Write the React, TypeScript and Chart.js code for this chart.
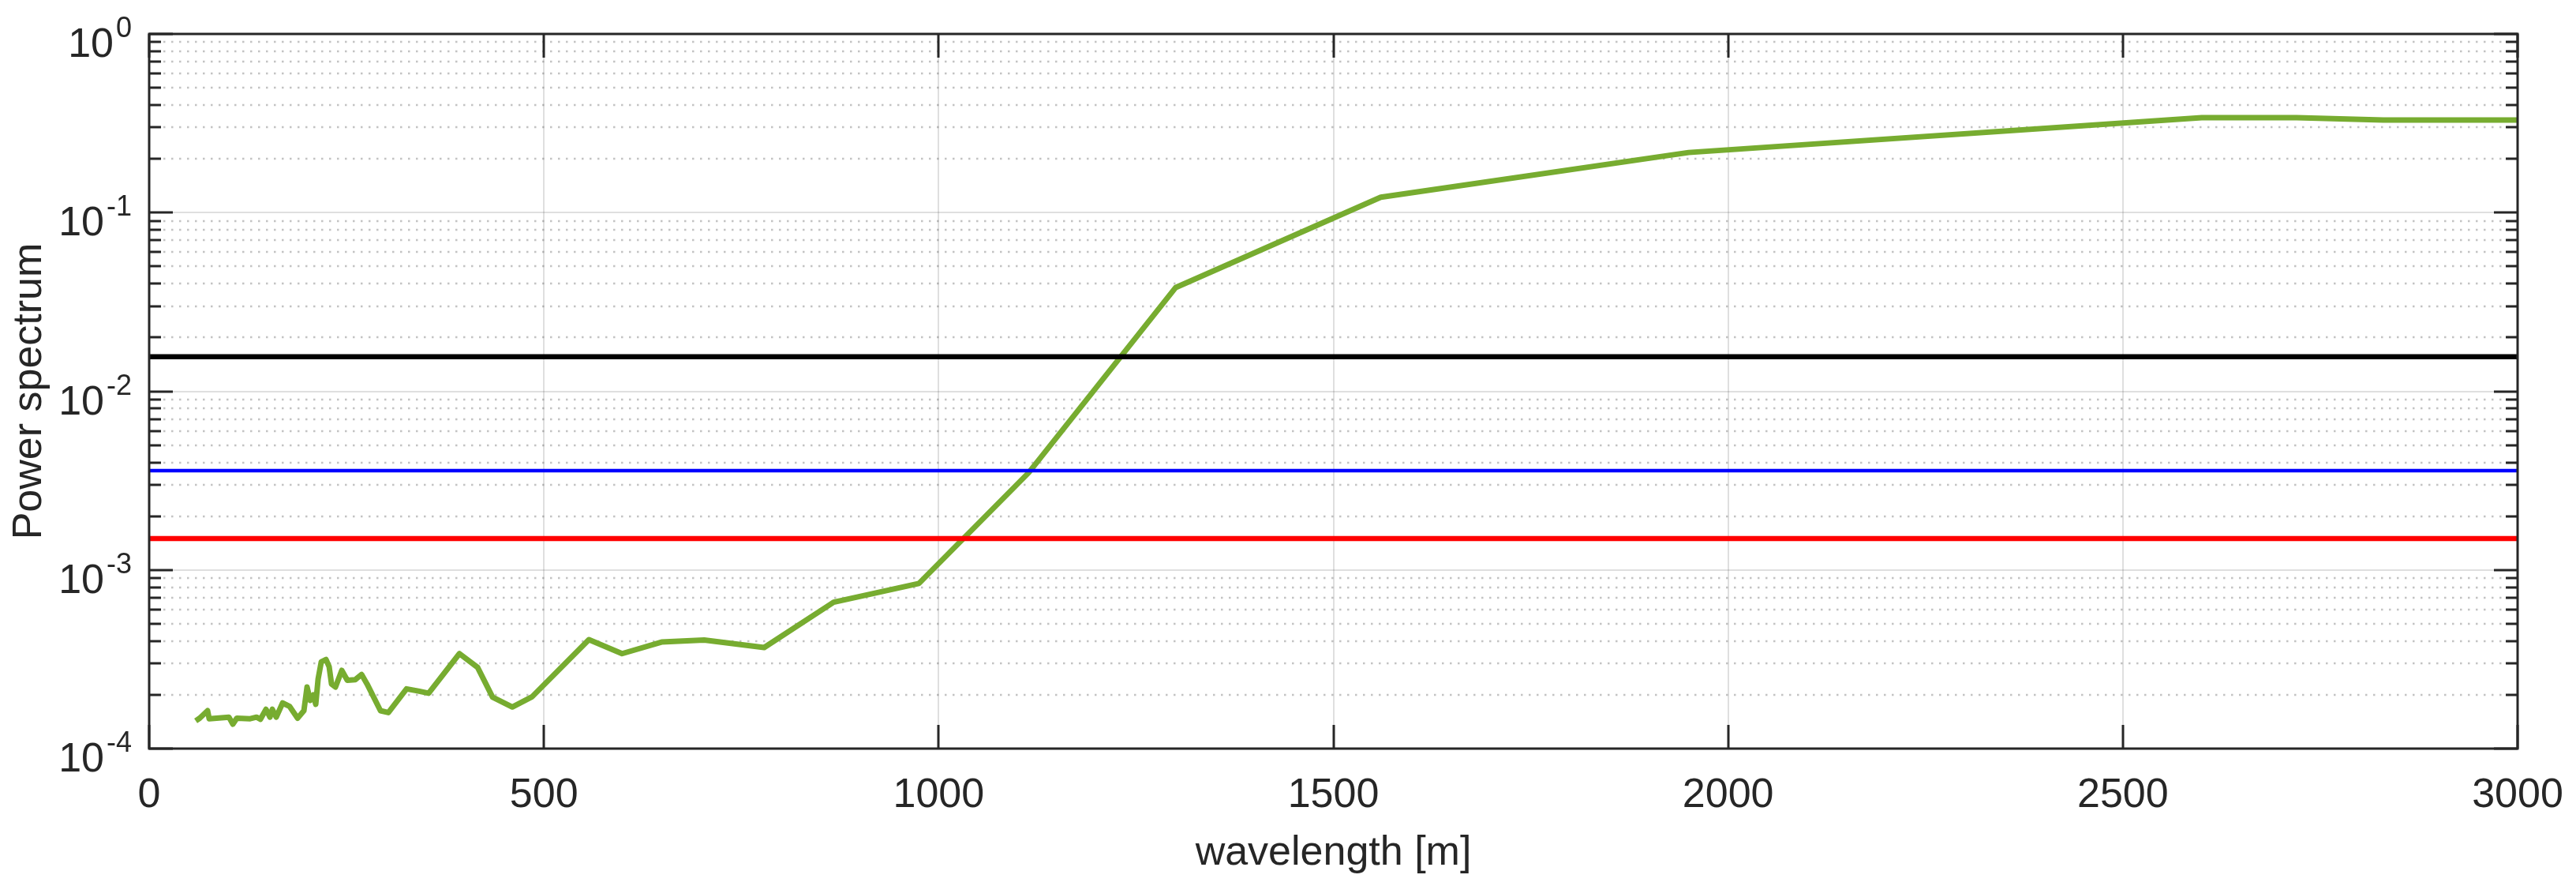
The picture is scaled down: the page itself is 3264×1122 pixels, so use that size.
import { useEffect, useRef } from 'react';
import { Chart, registerables } from 'chart.js';

Chart.register(...registerables);

// green spectrum
const greenWavelength = [
  59, 64, 74, 76, 101, 106, 111, 128, 136, 141, 148, 153, 156, 161, 169, 178, 188, 196,
  200, 204, 208, 211, 214, 218, 224, 228, 231, 236, 244, 251, 261, 269, 276, 293, 303,
  326, 341, 354, 393, 416, 435, 460, 485, 557, 599, 649, 703, 779, 867, 975, 1114,
  1300, 1560, 1950, 2600, 2720, 2830, 3000,
];
const greenPower = [
  1.43e-4, 1.48e-4, 1.63e-4, 1.47e-4, 1.5e-4, 1.37e-4, 1.48e-4, 1.47e-4, 1.5e-4, 1.46e-4,
  1.66e-4, 1.5e-4, 1.66e-4, 1.5e-4, 1.8e-4, 1.72e-4, 1.48e-4, 1.63e-4,
  2.21e-4, 1.86e-4, 2.0e-4, 1.77e-4, 2.45e-4, 3.06e-4, 3.15e-4, 2.87e-4, 2.3e-4, 2.21e-4,
  2.74e-4, 2.41e-4, 2.43e-4, 2.6e-4, 2.3e-4, 1.63e-4, 1.59e-4,
  2.16e-4, 2.1e-4, 2.04e-4, 3.4e-4, 2.85e-4, 1.94e-4, 1.71e-4, 1.95e-4, 4.07e-4, 3.4e-4,
  3.95e-4, 4.05e-4, 3.68e-4, 6.6e-4, 8.4e-4, 3.5e-3,
  0.038, 0.122, 0.217, 0.34, 0.34, 0.33, 0.33,
];

// constant levels
const levelWavelength = [0, 3000];
const blackLevel = [0.0156, 0.0156];
const blueLevel = [0.0036, 0.0036];
const redLevel = [0.0015, 0.0015];

// axes
const xTicks = [0, 500, 1000, 1500, 2000, 2500, 3000];
const yDecades = [-4, -3, -2, -1, 0];
const xTitle = 'wavelength [m]';
const yTitle = 'Power spectrum';

const ink = '#262626';
const font = '"Liberation Sans", Arial, Helvetica, sans-serif';

const pts = (xs: number[], ys: number[]) => xs.map((x, i) => ({ x, y: ys[i] }));

// matlab-like box, inward ticks, dotted minor grid, 10^n labels
const matlabAxes = {
  id: 'matlabAxes',
  beforeDatasetsDraw(chart: any) {
    const { ctx, chartArea: a, scales } = chart;
    const y = scales.y;
    const x = scales.x;
    ctx.save();
    ctx.lineWidth = 2.5;
    ctx.strokeStyle = 'rgba(38,38,38,0.28)';
    ctx.setLineDash([2.5, 7.5]);
    for (let e = yDecades[0]; e < yDecades[yDecades.length - 1]; e++) {
      for (let m = 2; m <= 9; m++) {
        const py = Math.round(y.getPixelForValue(m * Math.pow(10, e)));
        ctx.beginPath();
        ctx.moveTo(a.left + 18, py);
        ctx.lineTo(a.right, py);
        ctx.stroke();
      }
    }
    ctx.setLineDash([]);
    ctx.lineWidth = 2;
    ctx.strokeStyle = 'rgba(38,38,38,0.15)';
    yDecades.forEach((e) => {
      const py = Math.round(y.getPixelForValue(Math.pow(10, e)));
      ctx.beginPath();
      ctx.moveTo(a.left, py);
      ctx.lineTo(a.right, py);
      ctx.stroke();
    });
    xTicks.forEach((t) => {
      const px = Math.round(x.getPixelForValue(t));
      ctx.beginPath();
      ctx.moveTo(px, a.top);
      ctx.lineTo(px, a.bottom);
      ctx.stroke();
    });
    ctx.restore();
  },
  afterDatasetsDraw(chart: any) {
    const { ctx, chartArea: a, scales } = chart;
    const y = scales.y;
    const x = scales.x;
    ctx.save();
    ctx.strokeStyle = ink;
    ctx.fillStyle = ink;
    ctx.lineWidth = 3;
    ctx.strokeRect(a.left, a.top, a.right - a.left, a.bottom - a.top);

    // ticks
    ctx.beginPath();
    xTicks.forEach((t) => {
      const px = Math.round(x.getPixelForValue(t));
      ctx.moveTo(px, a.bottom);
      ctx.lineTo(px, a.bottom - 30);
      ctx.moveTo(px, a.top);
      ctx.lineTo(px, a.top + 30);
    });
    for (let e = yDecades[0]; e <= yDecades[yDecades.length - 1]; e++) {
      const py = Math.round(y.getPixelForValue(Math.pow(10, e)));
      ctx.moveTo(a.left, py);
      ctx.lineTo(a.left + 30, py);
      ctx.moveTo(a.right, py);
      ctx.lineTo(a.right - 30, py);
      if (e === 0) continue;
      for (let m = 2; m <= 9; m++) {
        const my = Math.round(y.getPixelForValue(m * Math.pow(10, e)));
        ctx.moveTo(a.left, my);
        ctx.lineTo(a.left + 15, my);
        ctx.moveTo(a.right, my);
        ctx.lineTo(a.right - 15, my);
      }
    }
    ctx.stroke();

    // x labels
    ctx.font = `52px ${font}`;
    ctx.textBaseline = 'alphabetic';
    ctx.textAlign = 'center';
    xTicks.forEach((t) => {
      ctx.fillText(String(t), x.getPixelForValue(t), a.bottom + 74);
    });
    ctx.fillText(xTitle, (a.left + a.right) / 2, a.bottom + 147);

    // y labels 10^e
    const right = a.left - 22;
    yDecades.forEach((e) => {
      const py = y.getPixelForValue(Math.pow(10, e));
      const exp = String(e);
      ctx.font = `36px ${font}`;
      const ew = ctx.measureText(exp).width;
      ctx.textAlign = 'left';
      ctx.fillText(exp, right - ew, py + 4);
      ctx.font = `52px ${font}`;
      ctx.textAlign = 'right';
      ctx.fillText('10', right - ew - 3, py + 29);
    });

    // y title
    ctx.translate(52, (a.top + a.bottom) / 2);
    ctx.rotate(-Math.PI / 2);
    ctx.textAlign = 'center';
    ctx.font = `52px ${font}`;
    ctx.fillText(yTitle, 0, 0);
    ctx.restore();
  },
};

export default function App() {
  const canvasRef = useRef<HTMLCanvasElement>(null);

  useEffect(() => {
    document.body.style.margin = '0';
    document.body.style.overflow = 'hidden';
    if (!canvasRef.current) return;

    const chart = new Chart(canvasRef.current, {
      type: 'line',
      data: {
        datasets: [
          {
            label: 'black',
            data: pts(levelWavelength, blackLevel),
            borderColor: '#000000',
            borderWidth: 6.5,
          },
          {
            label: 'blue',
            data: pts(levelWavelength, blueLevel),
            borderColor: '#0000ff',
            borderWidth: 4.5,
          },
          {
            label: 'red',
            data: pts(levelWavelength, redLevel),
            borderColor: '#ff0000',
            borderWidth: 6.5,
          },
          {
            label: 'spectrum',
            data: pts(greenWavelength, greenPower),
            borderColor: '#77ac30',
            borderWidth: 7,
            borderJoinStyle: 'round',
          },
        ],
      },
      options: {
        animation: false,
        responsive: false,
        devicePixelRatio: 1,
        layout: { padding: { left: 189, right: 74, top: 43, bottom: 174 } },
        elements: { point: { radius: 0 }, line: { tension: 0 } },
        plugins: { legend: { display: false }, tooltip: { enabled: false } },
        scales: {
          x: { type: 'linear', min: 0, max: 3000, display: false },
          y: { type: 'logarithmic', min: 1e-4, max: 1, display: false },
        },
      },
      plugins: [matlabAxes],
    });

    return () => chart.destroy();
  }, []);

  return (
    <div style={{ width: 3264, height: 1122, background: '#fff' }}>
      <canvas ref={canvasRef} width={3264} height={1122} />
    </div>
  );
}
